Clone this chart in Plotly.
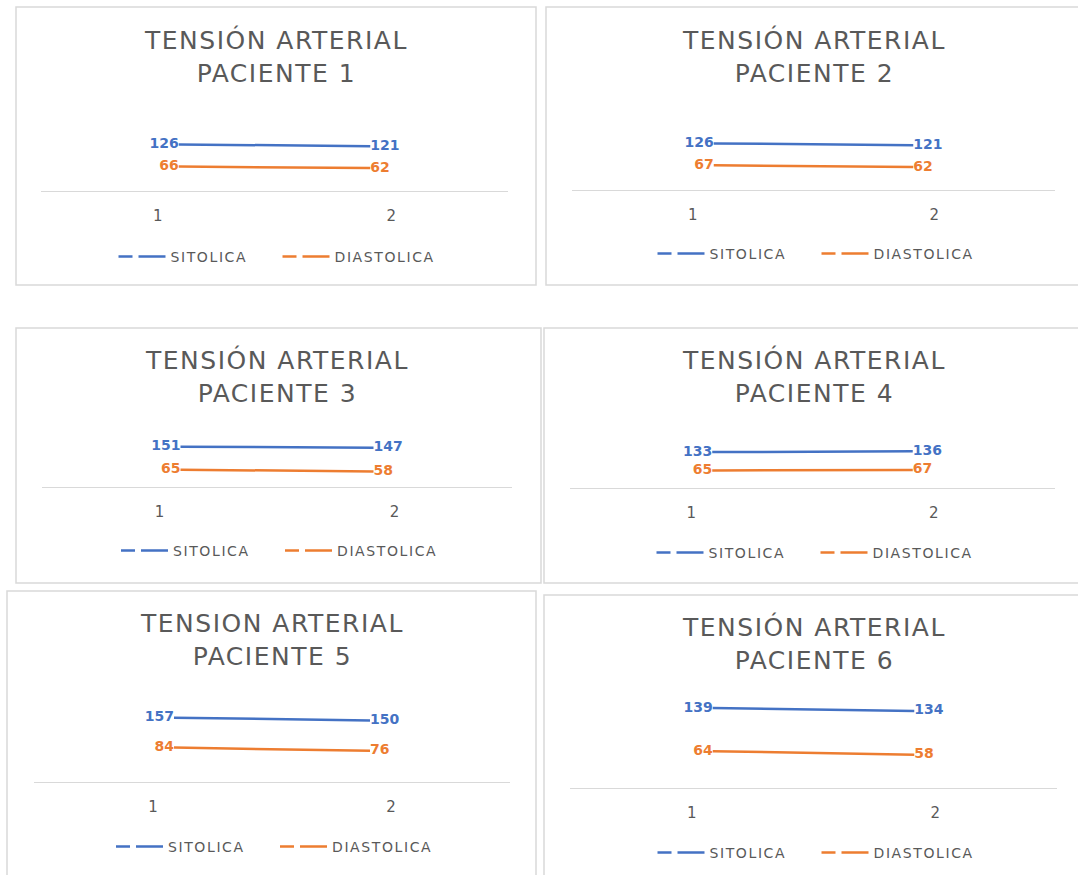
import plotly.graph_objects as go

# ---------------- data ----------------
categories = [1, 2]
tick_labels = ["1", "2"]
series_names = ["SITOLICA", "DIASTOLICA"]
sitolica_values = [[126, 121], [126, 121], [151, 147], [133, 136], [157, 150], [139, 134]]
diastolica_values = [[66, 62], [67, 62], [65, 58], [65, 67], [84, 76], [64, 58]]
titles = [
    "TENSIÓN ARTERIAL<br>PACIENTE 1",
    "TENSIÓN ARTERIAL<br>PACIENTE 2",
    "TENSIÓN ARTERIAL<br>PACIENTE 3",
    "TENSIÓN ARTERIAL<br>PACIENTE 4",
    "TENSION ARTERIAL<br>PACIENTE 5",
    "TENSIÓN ARTERIAL<br>PACIENTE 6",
]
y_max = [140, 140, 160, 160, 180, 160]

# ---------------- layout geometry (pixels) ----------------
W, H = 1078, 875
BLUE, ORANGE, GRAY, BORDER = "#4472C4", "#ED7D31", "#595959", "#D9D9D9"

# box(x0,y0,x1,y1), axis x0,x1, axis_y, top_y, title (cx, cy), legend y
geo = [
    dict(box=(16, 7, 536, 285), ax=(41, 508), axy=191, top=139.2, title=(276, 56.5), leg=257),
    dict(box=(546, 7, 1100, 285), ax=(572, 1055), axy=190, top=138.2, title=(814, 56.5), leg=254),
    dict(box=(16, 328, 541, 583), ax=(42, 512), axy=487, top=444.3, title=(277, 376.5), leg=551),
    dict(box=(544, 328, 1100, 583), ax=(570, 1055), axy=488, top=444.8, title=(814, 376.5), leg=553),
    dict(box=(7, 591, 536, 900), ax=(34, 510), axy=782, top=708.2, title=(272, 640), leg=847),
    dict(box=(544, 595, 1100, 900), ax=(570, 1057), axy=788, top=696, title=(814, 643.5), leg=853),
]
INSET = 21  # px between category tick and line end


def px_x(p):
    return p / W


def px_y(p):
    return 1 - p / H


def spaced(s, ls):
    return f'<span style="letter-spacing:{ls}px">{s}</span>'


fig = go.Figure()
layout = dict(
    width=W, height=H, autosize=False,
    margin=dict(l=0, r=0, t=0, b=0),
    paper_bgcolor="white", plot_bgcolor="rgba(0,0,0,0)",
    shapes=[], annotations=[],
)

for i in range(6):
    g = geo[i]
    n = i + 1
    xl = f"x{n}" if n > 1 else "x"
    xt = f"x{n + 6}"
    yk = f"y{n}" if n > 1 else "y"
    legname = f"legend{n}" if n > 1 else "legend"

    axw = g["ax"][1] - g["ax"][0]
    unit = axw / 2 - 2 * INSET
    off = (axw / 4 + INSET) / unit
    dom_x = [px_x(g["ax"][0]), px_x(g["ax"][1])]
    dom_y = [px_y(g["axy"]), px_y(g["top"])]

    layout["xaxis" + (str(n) if n > 1 else "")] = dict(
        domain=dom_x, anchor=yk, range=[categories[0] - off, categories[-1] + off],
        visible=False, fixedrange=True,
    )
    layout[f"xaxis{n + 6}"] = dict(
        domain=dom_x, anchor=yk, overlaying=xl,
        range=[categories[0] - 0.5, categories[-1] + 0.5],
        tickvals=categories, ticktext=tick_labels,
        showline=True, linecolor=BORDER, linewidth=1, showgrid=False, zeroline=False,
        ticks="", ticklabelstandoff=11,
        tickfont=dict(family="DejaVu Sans", size=15, color=GRAY), fixedrange=True,
    )
    layout["yaxis" + (str(n) if n > 1 else "")] = dict(
        domain=dom_y, anchor=xl, range=[0, y_max[i]], visible=False, fixedrange=True,
    )

    # tick-label axis carrier
    fig.add_trace(go.Scatter(x=categories, y=[None, None], xaxis=xt, yaxis=yk,
                             mode="lines", showlegend=False, hoverinfo="skip"))

    for vals, color, name in ((sitolica_values[i], BLUE, series_names[0]),
                              (diastolica_values[i], ORANGE, series_names[1])):
        fig.add_trace(go.Scatter(
            x=categories, y=vals, xaxis=xl, yaxis=yk, mode="lines+text",
            text=[str(v) for v in vals], textposition=["middle left", "middle right"],
            textfont=dict(family="DejaVu Sans", size=14, color=color, weight="bold"),
            line=dict(color=color, width=2.5), showlegend=False, name=name,
            cliponaxis=False, hoverinfo="skip",
        ))
        fig.add_trace(go.Scatter(
            x=[None], y=[None], xaxis=xl, yaxis=yk, mode="lines", name=spaced(name, 1.6),
            line=dict(color=color, width=2.5, dash="14px,6px,40px"),
            legend=legname, showlegend=True, hoverinfo="skip",
        ))

    layout[legname] = dict(
        orientation="h", x=px_x(sum(g["ax"]) / 2 + 3), y=px_y(g["leg"]),
        xanchor="center", yanchor="middle", bgcolor="rgba(0,0,0,0)",
        font=dict(family="DejaVu Sans", size=14, color=GRAY),
        itemclick=False, itemdoubleclick=False, tracegroupgap=0,
        itemwidth=47, entrywidth=102, entrywidthmode="pixels",
    )

    b = g["box"]
    layout["shapes"].append(dict(
        type="rect", xref="paper", yref="paper",
        x0=px_x(b[0]), x1=px_x(b[2]), y0=px_y(b[1]), y1=px_y(b[3]),
        line=dict(color=BORDER, width=1.5), fillcolor="rgba(0,0,0,0)", layer="below",
    ))
    t1, t2 = titles[i].split("<br>")
    layout["annotations"].append(dict(
        text=spaced(t1, 1.5) + "<br>" + spaced(t2, 1.5),
        xref="paper", yref="paper",
        x=px_x(g["title"][0]), y=px_y(g["title"][1]),
        xanchor="center", yanchor="middle", showarrow=False,
        font=dict(family="DejaVu Sans", size=25, color=GRAY),
    ))

fig.update_layout(**layout)
fig.write_html(
    "out.html",
    config={"displayModeBar": False},
    post_script="document.body.style.margin='0';document.body.style.overflow='hidden';",
)
